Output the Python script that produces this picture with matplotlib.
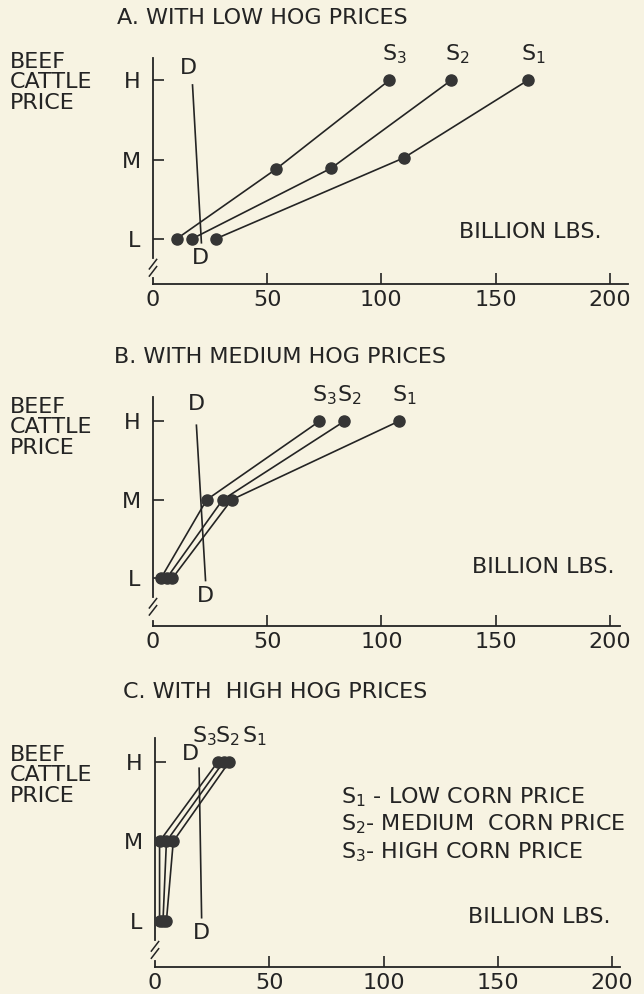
import matplotlib
matplotlib.use("Agg")
import matplotlib.pyplot as plt

# ============================================================
# DATA (billion lbs. vs. beef cattle price level L=1, M=2, H=3)
# ============================================================
QTY_TICKS = [0, 50, 100, 150, 200]
PRICE_LEVELS = [1, 2, 3]
PRICE_LABELS = ["L", "M", "H"]
SUPPLY_NAMES = ["S$_1$", "S$_2$", "S$_3$"]

# A. low hog prices
a_s1_qty = [27.5, 109.8, 164.2]
a_s1_price = [1.0, 2.02, 3.0]
a_s2_qty = [17.1, 78.0, 130.6]
a_s2_price = [1.0, 1.89, 3.0]
a_s3_qty = [10.4, 53.9, 103.5]
a_s3_price = [1.0, 1.88, 3.0]
a_demand_qty = [17.3, 21.2]
a_demand_price = [2.94, 0.95]

# B. medium hog prices
b_s1_qty = [8.5, 34.4, 107.5]
b_s1_price = [1.0, 2.0, 3.0]
b_s2_qty = [6.0, 30.5, 83.7]
b_s2_price = [1.0, 2.0, 3.0]
b_s3_qty = [3.5, 23.5, 72.8]
b_s3_price = [1.0, 2.0, 3.0]
b_demand_qty = [19.0, 23.0]
b_demand_price = [2.95, 0.97]

# C. high hog prices
c_s1_qty = [5.0, 8.0, 32.5]
c_s1_price = [1.0, 2.0, 3.0]
c_s2_qty = [3.5, 5.0, 30.0]
c_s2_price = [1.0, 2.0, 3.0]
c_s3_qty = [2.0, 2.0, 27.5]
c_s3_price = [1.0, 2.0, 3.0]
c_demand_qty = [19.3, 20.4]
c_demand_price = [2.92, 1.04]

TITLES = ["A. WITH LOW HOG PRICES", "B. WITH MEDIUM HOG PRICES", "C. WITH  HIGH HOG PRICES"]
LEGEND_LINES = ["S$_1$ - LOW CORN PRICE", "S$_2$- MEDIUM  CORN PRICE", "S$_3$- HIGH CORN PRICE"]

# ============================================================
# STYLE
# ============================================================
W, H = 644, 994
PAPER = "#f7f3e2"
INK = "#242424"
FS = 16

plt.rcParams["font.family"] = ["DejaVu Sans"]
plt.rcParams["mathtext.fontset"] = "dejavusans"


def px_rect(left, top, right, bottom):
    return [left / W, 1 - bottom / H, (right - left) / W, (bottom - top) / H]


def draw_panel(ax, supplies, demand, xmax, ylim, label_dx, d_labels, billion_xy):
    ax.set_facecolor("none")
    ax.set_xlim(0, xmax)
    ax.set_ylim(*ylim)
    for side in ["top", "right"]:
        ax.spines[side].set_visible(False)
    for side in ["left", "bottom"]:
        ax.spines[side].set_linewidth(1.3)
        ax.spines[side].set_color(INK)

    # y-axis break
    ax.spines["left"].set_bounds(0.76, ylim[1])
    y0 = ylim[0]
    ax.plot([0, 0], [y0, y0 + 0.07], color=INK, lw=1.3, clip_on=False)
    for yb in [0.59, 0.68]:
        ax.plot([-1.6, 1.6], [yb - 0.06, yb + 0.06], color=INK, lw=1.1, clip_on=False)

    ax.set_xticks(QTY_TICKS)
    ax.set_xticklabels([str(v) for v in QTY_TICKS], fontsize=FS, color=INK)
    ax.set_yticks(PRICE_LEVELS)
    ax.set_yticklabels(PRICE_LABELS, fontsize=FS, color=INK)
    ax.tick_params(axis="x", direction="in", length=8, width=1.2, pad=4, colors=INK)
    ax.tick_params(axis="y", direction="in", length=8, width=1.2, pad=9, colors=INK)
    ax.xaxis.get_major_ticks()[0].tick1line.set_visible(False)

    for (qty, price), name, dx in zip(supplies, SUPPLY_NAMES, label_dx):
        ax.plot(qty, price, color=INK, lw=1.2, marker="o", ms=8,
                mfc="#353535", mec="#353535", zorder=3)
        ax.annotate(name, (qty[-1], price[-1]), xytext=(dx, 10),
                    textcoords="offset points", ha="center", va="bottom",
                    fontsize=FS, color=INK, annotation_clip=False)

    dq, dp = demand
    ax.plot(dq, dp, color=INK, lw=1.2)
    ax.annotate("D", (dq[0], dp[0]), xytext=d_labels[0], textcoords="offset points",
                ha="center", va="bottom", fontsize=FS, color=INK, annotation_clip=False)
    ax.annotate("D", (dq[1], dp[1]), xytext=d_labels[1], textcoords="offset points",
                ha="center", va="top", fontsize=FS, color=INK, annotation_clip=False)

    ax.text(billion_xy[0], billion_xy[1], "BILLION LBS.", ha="center", va="center",
            fontsize=FS, color=INK)


fig = plt.figure(figsize=(W / 100, H / 100), dpi=100)
fig.patch.set_facecolor(PAPER)

panels = [
    dict(rect=px_rect(153, 58, 628, 284), xmax=208, ylim=(0.43, 3.28),
         supplies=[(a_s1_qty, a_s1_price), (a_s2_qty, a_s2_price), (a_s3_qty, a_s3_price)],
         demand=(a_demand_qty, a_demand_price), label_dx=[4, 4, 4],
         d_labels=[(-3, 5), (-1, -4)], billion=(165, 1.09), title_xy=(117, 18),
         beef_y=62),
    dict(rect=px_rect(153, 397, 620, 626), xmax=204.4, ylim=(0.39, 3.31),
         supplies=[(b_s1_qty, b_s1_price), (b_s2_qty, b_s2_price), (b_s3_qty, b_s3_price)],
         demand=(b_demand_qty, b_demand_price), label_dx=[4, 4, 4],
         d_labels=[(0, 8), (0, -4)], billion=(171, 1.14), title_xy=(114, 357),
         beef_y=407),
    dict(rect=px_rect(155, 738, 620, 967), xmax=203.5, ylim=(0.42, 3.30),
         supplies=[(c_s1_qty, c_s1_price), (c_s2_qty, c_s2_price), (c_s3_qty, c_s3_price)],
         demand=(c_demand_qty, c_demand_price), label_dx=[18, 3, -10],
         d_labels=[(-6, 3), (0, -4)], billion=(168, 1.05), title_xy=(123, 692),
         beef_y=755),
]

for p, title in zip(panels, TITLES):
    ax = fig.add_axes(p["rect"])
    draw_panel(ax, p["supplies"], p["demand"], p["xmax"], p["ylim"],
               p["label_dx"], p["d_labels"], p["billion"])
    fig.text(p["title_xy"][0] / W, 1 - p["title_xy"][1] / H, title,
             ha="left", va="center", fontsize=FS, color=INK)
    fig.text(10 / W, 1 - (p["beef_y"] - 10) / H, "BEEF\nCATTLE\nPRICE",
             ha="left", va="top", fontsize=FS, color=INK, linespacing=1.03)

# corn price key (panel C)
for i, line in enumerate(LEGEND_LINES):
    fig.text(341 / W, 1 - (797 + 27.5 * i) / H, line, ha="left", va="center",
             fontsize=FS, color=INK)

fig.savefig("out.png", dpi=100, facecolor=PAPER)
